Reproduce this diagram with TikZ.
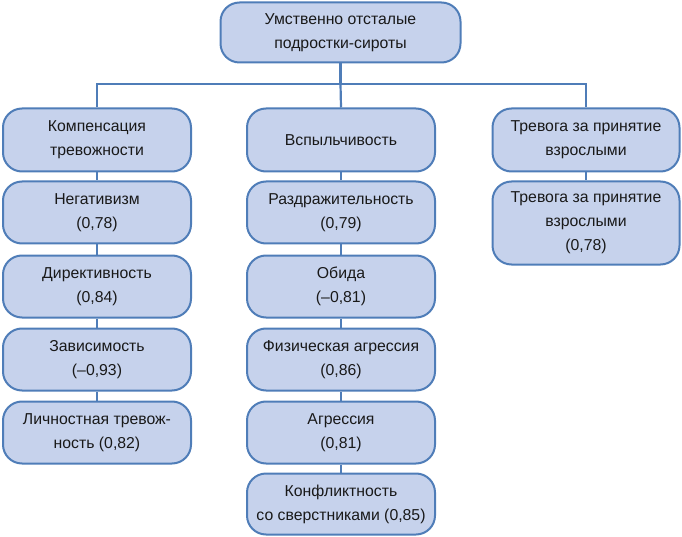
\documentclass[tikz,border=0pt]{standalone}
\usepackage{fontspec}
\setmainfont{Liberation Sans}
\definecolor{boxfill}{HTML}{C6D2EC}
\definecolor{boxline}{HTML}{4F7DB8}
\begin{document}
\begin{tikzpicture}[x=1pt,y=-1pt,
  bx/.style={draw=boxline,fill=boxfill,line width=2pt,rounded corners=19pt,
    align=center,inner sep=0pt,font=\fontsize{15.8}{24}\selectfont,text=black!90},
  cn/.style={draw=boxline,line width=2.2pt}]
\useasboundingbox (0,0) rectangle (682,537);
\node[bx,minimum width=240pt,minimum height=60pt] (top) at (340.5,32.5) {Умственно отсталые\\подростки-сироты};
% column 1
\node[bx,minimum width=188pt,minimum height=63pt] (a1) at (97,140) {Компенсация\\тревожности};
\node[bx,minimum width=188pt,minimum height=62pt] (a2) at (97,212.5) {Негативизм\\(0,78)};
\node[bx,minimum width=188pt,minimum height=62pt] (a3) at (97,286.5) {Директивность\\(0,84)};
\node[bx,minimum width=188pt,minimum height=62pt] (a4) at (97,359.5) {Зависимость\\(\textendash0,93)};
\node[bx,minimum width=188pt,minimum height=62pt] (a5) at (97,432.5) {Личностная тревож-\\ность (0,82)};
% column 2
\node[bx,minimum width=188pt,minimum height=63pt] (b1) at (341,140) {Вспыльчивость};
\node[bx,minimum width=188pt,minimum height=62pt] (b2) at (341,212.5) {Раздражительность\\(0,79)};
\node[bx,minimum width=188pt,minimum height=62pt] (b3) at (341,286.5) {Обида\\(\textendash0,81)};
\node[bx,minimum width=188pt,minimum height=62pt] (b4) at (341,359.5) {Физическая агрессия\\(0,86)};
\node[bx,minimum width=188pt,minimum height=62pt] (b5) at (341,432.5) {Агрессия\\(0,81)};
\node[bx,minimum width=188pt,minimum height=61pt] (b6) at (341,504) {Конфликтность\\со сверстниками (0,85)};
% column 3
\node[bx,minimum width=187pt,minimum height=63pt] (c1) at (586,140) {Тревога за принятие\\взрослыми};
\node[bx,minimum width=187pt,minimum height=83pt] (c2) at (586,223) {Тревога за принятие\\взрослыми\\(0,78)};
% connectors
\coordinate (hm) at (340.5,84);
\coordinate (hl) at (97,84);
\coordinate (hr) at (586,84);
\draw[cn] (top.south) -- (hm);
\draw[cn] (a1.north) -- (hl) -- (hr) -- (c1.north);
\draw[cn] (hm) -- (b1.north);
\draw[cn] (a1) -- (a2); \draw[cn] (a2) -- (a3); \draw[cn] (a3) -- (a4); \draw[cn] (a4) -- (a5);
\draw[cn] (b1) -- (b2); \draw[cn] (b2) -- (b3); \draw[cn] (b3) -- (b4); \draw[cn] (b4) -- (b5); \draw[cn] (b5) -- (b6);
\draw[cn] (c1) -- (c2);
\end{tikzpicture}
\end{document}
